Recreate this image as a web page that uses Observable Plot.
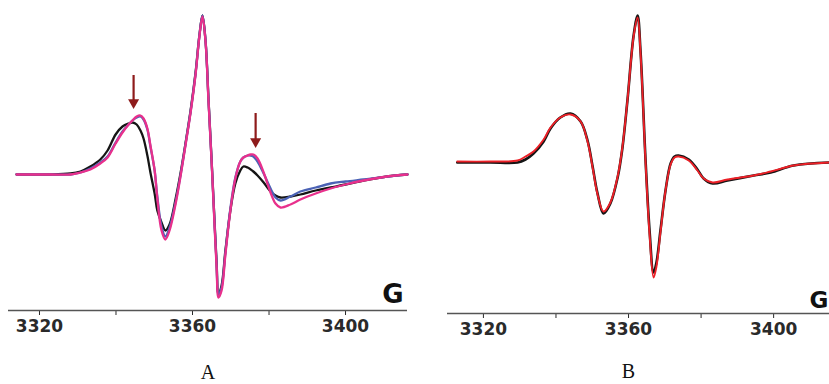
<!DOCTYPE html>
<html>
<head>
<meta charset="utf-8">
<script src="https://cdn.jsdelivr.net/npm/d3@7"></script>
<script src="https://cdn.jsdelivr.net/npm/@observablehq/plot@0.6"></script>
<style>
  html, body { margin: 0; padding: 0; background: #fff; overflow: hidden; }
  #wrap { position: relative; width: 829px; height: 384px; display: flex; }
  #wrap svg { display: block; overflow: visible; }
</style>
</head>
<body>
<div id="wrap"><div id="pa"></div><div id="pb"></div></div>
<script>
// ---- Data (magnetic field in G, EPR first-derivative intensity in arbitrary units) ----
const majorTicks = [3320, 3360, 3400];
const minorTicks = [3340, 3380];
const unitLabel = "G";
const panelLabels = ["A", "B"];

// Panel A: three spectra
const fieldA = [3314.0, 3322.9, 3328.1, 3330.7, 3333.3, 3335.9, 3337.8, 3339.9, 3341.7, 3343.3,
  3344.3, 3345.4, 3346.4, 3347.2, 3348.2, 3349.0, 3350.1, 3350.8, 3351.9, 3352.9,
  3354.0, 3355.6, 3356.9, 3358.2, 3359.5, 3360.8, 3361.8, 3362.6, 3363.4, 3364.2,
  3365.0, 3365.5, 3366.3, 3366.8, 3367.6, 3368.6, 3369.9, 3371.2, 3372.5, 3373.3,
  3374.4, 3375.2, 3375.9, 3377.0, 3378.6, 3380.4, 3381.7, 3383.0, 3385.6, 3388.2,
  3392.2, 3396.1, 3400.0, 3404.7, 3409.2, 3413.1, 3416.2];
const blackA = [0, 0, 1, 3, 8, 15, 24, 40, 48, 51,
  52, 50, 44, 36, 19, 2, -19, -36, -48, -56,
  -50, -24, 2, 32, 64, 102, 139, 159, 134, 74,
  14, -26, -88, -119, -111, -76, -36, -9, 4, 8,
  7, 5, 3, -1, -8, -17, -21, -23, -22, -20,
  -16, -13, -10, -6, -3, -1, 0];
const blueA = [0, 0, 0, 2, 6, 12, 18, 32, 43, 50,
  54, 57, 58, 55, 45, 28, 4, -22, -52, -62,
  -53, -27, 0, 31, 63, 101, 139, 159, 134, 73,
  13, -27, -90, -120, -113, -78, -34, -3, 13, 17,
  19, 19, 18, 13, 1, -14, -23, -26, -22, -17,
  -13, -9, -7, -5, -3, -1, 0];
const magentaA = [0, 0, 0, 2, 5, 11, 17, 31, 42, 50,
  54, 58, 59, 56, 46, 29, 4, -24, -56, -65,
  -56, -29, -1, 30, 62, 100, 138, 158, 133, 72,
  12, -29, -93, -123, -116, -80, -36, -4, 13, 17,
  19, 20, 20, 16, 2, -18, -29, -33, -30, -25,
  -19, -14, -10, -6, -3, -1, 0];
// arrows in panel A (field, shaft top, tip)
const arrowField = [3344.6, 3376.5];
const arrowTop = [99, 61];
const arrowTip = [66, 27];

// Panel B: two spectra (experimental / simulated)
const fieldB = [3312.8, 3321.9, 3329.4, 3331.6, 3333.8, 3336.6, 3338.5, 3341.2, 3344.0, 3346.8,
  3348.7, 3350.1, 3351.4, 3353.1, 3355.0, 3357.0, 3358.3, 3359.7, 3361.4, 3362.5,
  3363.3, 3364.7, 3365.8, 3366.9, 3367.7, 3368.8, 3370.2, 3371.6, 3372.7, 3373.8,
  3376.6, 3379.0, 3380.7, 3383.2, 3387.3, 3394.5, 3399.2, 3405.5, 3415.4];
const blackB = [0, 0, 0, 3, 9, 21, 34, 45, 49, 41,
  22, -4, -30, -51, -41, -15, 14, 62, 127, 147,
  112, 2, -68, -110, -100, -68, -28, -1, 6, 7,
  3, -7, -16, -21, -18, -13, -10, -3, 0];
const redB = [1, 1, 2, 6, 11, 23, 35, 45, 48, 41,
  21, -5, -31, -49, -40, -14, 15, 62, 126, 145,
  110, 0, -72, -115, -104, -70, -28, -2, 5, 6,
  2, -8, -16, -20, -17, -13, -9, -3, 0];

// ---- helpers ----
const toRows = (xs, ys) => xs.map((x, i) => ({x, y: ys[i]}));
const tickFmt = d => majorTicks.includes(d) ? String(d) : "";
const baseStyle = {fontFamily: "DejaVu Sans", fontSize: "17px", fontWeight: "bold", color: "#2a2a2a", background: "transparent"};

// ---- Panel A ----
const yA = [-136, 164];
const arrows = arrowField.map((x, i) => ({x, top: arrowTop[i], tip: arrowTip[i]}));
const plotA = Plot.plot({
  width: 415, height: 384,
  marginLeft: 8, marginRight: 8, marginTop: 10, marginBottom: 74,
  style: baseStyle,
  x: {domain: [3311.9, 3416.2], ticks: [...majorTicks, ...minorTicks], tickFormat: tickFmt, tickSize: 5, tickPadding: 4, label: null},
  y: {domain: yA, axis: null},
  marks: [
    Plot.ruleY([yA[0]], {stroke: "#555", strokeWidth: 1.6}),
    Plot.line(toRows(fieldA, blackA), {x: "x", y: "y", stroke: "#151515", strokeWidth: 2.3, curve: "catmull-rom"}),
    Plot.line(toRows(fieldA, blueA), {x: "x", y: "y", stroke: "#4b62b5", strokeWidth: 2.3, curve: "catmull-rom"}),
    Plot.line(toRows(fieldA, magentaA), {x: "x", y: "y", stroke: "#e8308c", strokeWidth: 2.3, curve: "catmull-rom"}),
    Plot.ruleX(arrows, {x: "x", y1: "top", y2: "tip", stroke: "#8e1b1b", strokeWidth: 2.2, insetBottom: 6}),
    Plot.dot(arrows, {x: "x", y: "tip", dy: -6, symbol: "triangle", rotate: 180, r: 4.1, fill: "#8e1b1b", stroke: "none"}),
    Plot.text([unitLabel], {text: d => d, frameAnchor: "bottom-right", textAnchor: "end", dx: -4, dy: -8, lineAnchor: "bottom", fontSize: 26, fontWeight: "bold", fontFamily: "DejaVu Sans", fill: "#111"}),
    Plot.text([panelLabels[0]], {text: d => d, frameAnchor: "bottom", dy: 68, fontSize: 20, fontWeight: "normal", fontFamily: "Liberation Serif", fill: "#111"})
  ]
});
document.getElementById("pa").appendChild(plotA);

// ---- Panel B ----
const yB = [-151, 152];
const plotB = Plot.plot({
  width: 414, height: 384,
  marginLeft: 32, marginRight: 0, marginTop: 10, marginBottom: 71,
  style: baseStyle,
  x: {domain: [3310.1, 3415.4], ticks: [...majorTicks, ...minorTicks], tickFormat: tickFmt, tickSize: 5, tickPadding: 4, label: null},
  y: {domain: yB, axis: null},
  marks: [
    Plot.ruleY([yB[0]], {stroke: "#555", strokeWidth: 1.6}),
    Plot.line(toRows(fieldB, blackB), {x: "x", y: "y", stroke: "#151515", strokeWidth: 2.6, curve: "catmull-rom"}),
    Plot.line(toRows(fieldB, redB), {x: "x", y: "y", stroke: "#ec2027", strokeWidth: 1.9, curve: "catmull-rom"}),
    Plot.text([unitLabel], {text: d => d, frameAnchor: "bottom-right", textAnchor: "end", dx: -1, dy: -6, lineAnchor: "bottom", fontSize: 23, fontWeight: "bold", fontFamily: "DejaVu Sans", fill: "#111"}),
    Plot.text([panelLabels[1]], {text: d => d, frameAnchor: "bottom", dx: -10, dy: 64, fontSize: 20, fontWeight: "normal", fontFamily: "Liberation Serif", fill: "#111"})
  ]
});
document.getElementById("pb").appendChild(plotB);
</script>
</body>
</html>
